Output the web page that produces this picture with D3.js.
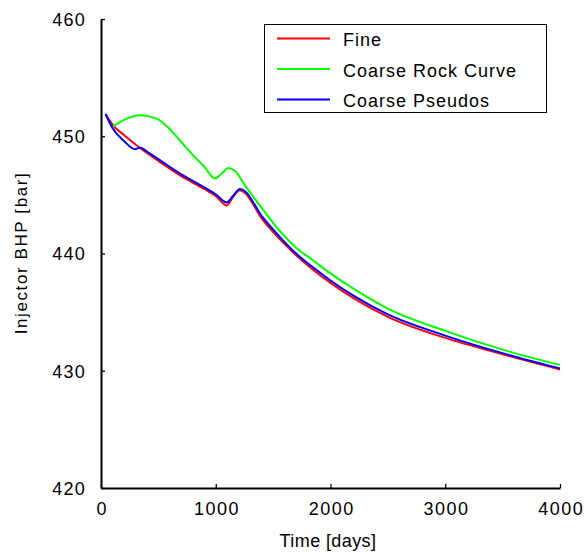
<!DOCTYPE html>
<html><head><meta charset="utf-8">
<script src="https://cdn.jsdelivr.net/npm/d3@7"></script>
<style>body{margin:0;background:#fff}svg{display:block}text{font-family:"Liberation Sans",Arial,sans-serif;fill:#000}</style>
</head><body>
<svg id="c" width="587" height="553"></svg>
<script>
const seriesNames = ["Fine", "Coarse Rock Curve", "Coarse Pseudos"];
const seriesColors = ["#ff0000", "#00ff00", "#0000ff"];
const xTicks = [0, 1000, 2000, 3000, 4000];
const yTicks = [420, 430, 440, 450, 460];

const fineT = [40,100,200,340,500,700,900,1000,1095,1150,1210,1250,1400,1560,1700,1850,2000,2200,2500,3000,3500,4000];
const fineP = [451.9,451.0,450.1,449.0,447.9,446.6,445.5,444.9,444.1,444.8,445.4,445.2,443.0,441.2,439.85,438.6,437.5,436.2,434.6,432.8,431.4,430.1];

const rockT = [100,200,340,485,600,700,800,900,993,1050,1110,1160,1270,1415,1560,1700,1850,2000,2200,2500,3000,3500,4000];
const rockP = [450.8,451.4,451.8,451.5,450.6,449.5,448.4,447.4,446.4,446.8,447.3,447.1,445.6,443.7,441.9,440.5,439.4,438.3,437.0,435.3,433.4,431.8,430.5];

const pseudoT = [40,100,200,296,340,400,500,700,900,1000,1095,1150,1210,1250,1400,1560,1700,1850,2000,2200,2500,3000,3500,4000];
const pseudoP = [451.9,450.7,449.6,448.9,449.05,448.7,448.05,446.75,445.65,445.05,444.35,444.9,445.5,445.35,443.2,441.4,440.0,438.8,437.7,436.4,434.8,433.0,431.5,430.2];

const svg = d3.select("#c");
const x = d3.scaleLinear().domain([0,4000]).range([101,560]);
const y = d3.scaleLinear().domain([420,460]).range([488,19]);

// axes
const xAxis = svg.append("g").attr("transform","translate(0,488)")
  .call(d3.axisBottom(x).tickValues(xTicks).tickFormat(d3.format("d")).tickSizeInner(-4).tickSizeOuter(0).tickPadding(14));
const yAxis = svg.append("g").attr("transform","translate(101,0)")
  .call(d3.axisLeft(y).tickValues(yTicks).tickFormat(d3.format("d")).tickSizeInner(-4).tickSizeOuter(0).tickPadding(15));
[xAxis,yAxis].forEach(a=>{
  a.select(".domain").attr("stroke","#000").attr("stroke-width",2);
  a.selectAll(".tick line").attr("stroke","#000").attr("stroke-width",1.3);
  a.selectAll(".tick text").attr("font-size",18).attr("font-family","Liberation Sans, Arial, sans-serif").attr("fill","#000");
});
xAxis.selectAll(".tick text").attr("letter-spacing","1.5px").attr("dx","0.75px").attr("dy","0.72em");
yAxis.selectAll(".tick text").attr("letter-spacing","1.2px").attr("dy","0.35em");

// axis titles
svg.append("text").attr("x",328).attr("y",547).attr("text-anchor","middle")
  .attr("font-size",18).attr("letter-spacing","0.4px").text("Time [days]");
svg.append("text").attr("transform","translate(27,253) rotate(-90)").attr("text-anchor","middle")
  .attr("font-size",17).attr("letter-spacing","1.6px").text("Injector BHP [bar]");

// lines
const line = d3.line().x(d=>x(d[0])).y(d=>y(d[1])).curve(d3.curveMonotoneX);
const data = [d3.zip(fineT,fineP), d3.zip(rockT,rockP), d3.zip(pseudoT,pseudoP)];
data.forEach((d,i)=>{
  svg.append("path").datum(d).attr("d",line).attr("fill","none")
    .attr("stroke",seriesColors[i]).attr("stroke-width",2).attr("stroke-linejoin","round");
});

// legend
const lg = svg.append("g");
lg.append("rect").attr("x",264.5).attr("y",24.5).attr("width",282).attr("height",88)
  .attr("fill","#fff").attr("stroke","#000").attr("stroke-width",1);
const rowsY = [38.5,69,99.5];
seriesNames.forEach((n,i)=>{
  lg.append("line").attr("x1",277).attr("x2",330).attr("y1",rowsY[i]).attr("y2",rowsY[i])
    .attr("stroke",seriesColors[i]).attr("stroke-width",2);
  lg.append("text").attr("x",343).attr("y",rowsY[i]+7.5).attr("font-size",18)
    .attr("letter-spacing","1px").text(n);
});
</script>
</body></html>
